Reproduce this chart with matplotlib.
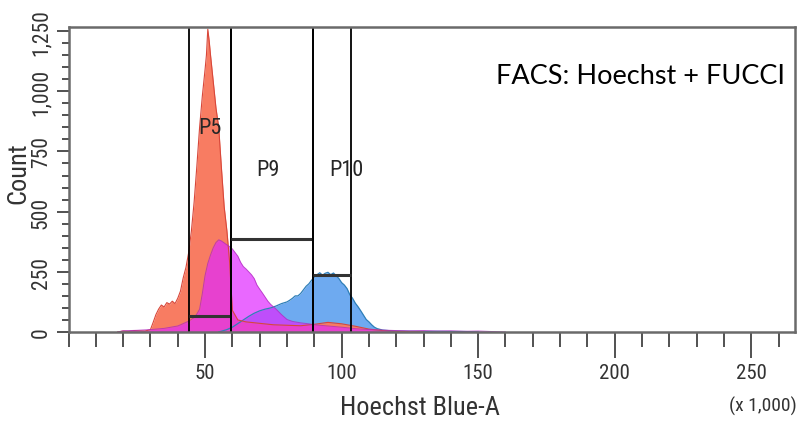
import matplotlib
matplotlib.use("Agg")
import matplotlib.pyplot as plt
from matplotlib.ticker import MultipleLocator

plt.rcParams["font.family"] = ["Roboto Condensed", "Liberation Sans", "DejaVu Sans"]

# Hoechst histogram, counts per channel (x in thousands)
blue_x = [55, 58, 60, 62, 64, 66, 68, 70, 72, 74, 76, 78, 80, 81, 82, 83, 84, 85, 86, 87, 88, 89,
          90, 91, 92, 93, 94, 95, 96, 97, 98, 99, 100, 101, 102, 103, 104, 105, 106, 107, 108, 109,
          110, 111, 112, 113, 115, 118, 120, 125, 130, 135, 140, 145, 150]
blue_n = [0, 10, 20, 35, 50, 65, 78, 88, 95, 100, 108, 118, 125, 132, 140, 150, 150, 160, 175, 190, 200, 215,
          228, 238, 246, 236, 244, 248, 238, 245, 234, 222, 205, 195, 180, 155, 140, 120, 105, 88, 70, 52,
          42, 30, 20, 14, 8, 5, 4, 3, 2, 3, 2, 2, 0]

red_x = [18, 20, 22, 24, 26, 28, 30, 31, 32, 33, 34, 35, 36, 37, 38, 39, 40, 41, 42, 43, 44, 45, 46, 47,
         48, 49, 50, 50.5, 51, 51.5, 52, 53, 54, 55, 56, 57, 58, 59, 60, 62, 65, 70, 75, 80, 85, 90, 95,
         100, 105, 110, 115, 120, 130]
red_n = [0, 4, 3, 6, 5, 4, 10, 40, 72, 95, 112, 104, 122, 116, 128, 118, 140, 170, 225, 268, 330, 420, 540, 690,
         850, 980, 1090, 1150, 1258, 1210, 1150, 1040, 930, 850, 680, 520, 420, 290, 90, 50, 42, 36, 30, 28, 26, 32, 40,
         34, 24, 12, 6, 3, 0]

mag_x = [18, 20, 25, 30, 35, 40, 42, 44, 46, 47, 48, 49, 50, 51, 52, 53, 54, 55, 56, 57, 58, 59, 60, 61,
         62, 63, 64, 65, 66, 67, 68, 69, 70, 71, 72, 73, 74, 75, 76, 78, 80, 82, 85, 88, 90, 95, 100, 105,
         110, 115, 120, 125, 130, 135, 140, 145, 150, 155, 160]
mag_n = [0, 5, 7, 10, 15, 25, 35, 45, 60, 75, 95, 160, 235, 285, 320, 350, 372, 383, 378, 370, 362, 355, 345, 330,
         315, 290, 272, 262, 250, 238, 222, 195, 178, 162, 145, 128, 115, 105, 95, 72, 52, 44, 38, 34, 30, 25, 20, 14,
         10, 8, 6, 5, 6, 4, 5, 3, 4, 2, 0]

# gates: (name, left, right, bar height, label x, label y)
gate_names = ["P5", "P9", "P10"]
gate_left = [44.1, 59.5, 89.6]
gate_right = [59.5, 89.6, 103.5]
gate_bar = [67, 387, 237]
label_x = [51.9, 73.0, 101.6]
label_y = [850, 676, 676]

fig = plt.figure(figsize=(7.99, 4.27), dpi=100)
ax = fig.add_axes([68.5 / 799, 94 / 427, 726.5 / 799, 305 / 427])

ax.fill_between(blue_x, blue_n, color="#6eaaf0", lw=0)
ax.plot(blue_x, blue_n, color="#2f7fb8", lw=0.9)
ax.fill_between(red_x, red_n, color="#f87c62", lw=0)
ax.plot(red_x, red_n, color="#d8473a", lw=0.8)
ax.fill_between(mag_x, mag_n, color="#e128ff", lw=0, alpha=0.7)
ax.plot(mag_x, mag_n, color="#b02ac0", lw=0.7, alpha=0.8)

for name, lo, hi, bar, lx, ly in zip(gate_names, gate_left, gate_right, gate_bar, label_x, label_y):
    ax.axvline(lo, color="black", lw=1.3)
    ax.axvline(hi, color="black", lw=1.3)
    ax.plot([lo, hi], [bar, bar], color="#333333", lw=2.2, solid_capstyle="butt")
    ax.text(lx, ly, name, ha="center", va="center", fontsize=16, color="#262626")

ax.set_xlim(0, 266)
ax.set_ylim(0, 1267)

ax.xaxis.set_minor_locator(MultipleLocator(10))
ax.yaxis.set_minor_locator(MultipleLocator(50))
ax.set_xticks([50, 100, 150, 200, 250])
ax.set_yticks([0, 250, 500, 750, 1000, 1250])
ax.set_yticklabels(["0", "250", "500", "750", "1,000", "1,250"], rotation=90, va="center")

ax.tick_params(axis="x", which="major", length=19, width=1.2, color="#333333",
               labelsize=15, labelcolor="#333333", pad=3)
ax.tick_params(axis="x", which="minor", length=11, width=1.2, color="#333333")
ax.tick_params(axis="y", which="major", length=9, width=1.2, color="#333333",
               labelsize=15.5, labelcolor="#333333", pad=3)
ax.tick_params(axis="y", which="minor", length=5, width=1.2, color="#333333")

for side in ["left", "bottom", "top", "right"]:
    ax.spines[side].set_color("#6a6a6a")
    ax.spines[side].set_linewidth(1.8)

fig.text(420 / 799, 1 - 408 / 427, "Hoechst Blue-A", ha="center", va="center",
         fontsize=19, color="#333333")
fig.text(18 / 799, 1 - 173 / 427, "Count", ha="center", va="center", rotation=90,
         fontsize=19, color="#333333")
fig.text(797 / 799, 1 - 406 / 427, "(x 1,000)", ha="right", va="center",
         fontsize=14, color="#333333")

ax.text(0.986, 0.842, "FACS: Hoechst + FUCCI", transform=ax.transAxes, ha="right", va="center",
        fontsize=19.5, family="Lato", color="black")

fig.savefig("out.png", dpi=100)
